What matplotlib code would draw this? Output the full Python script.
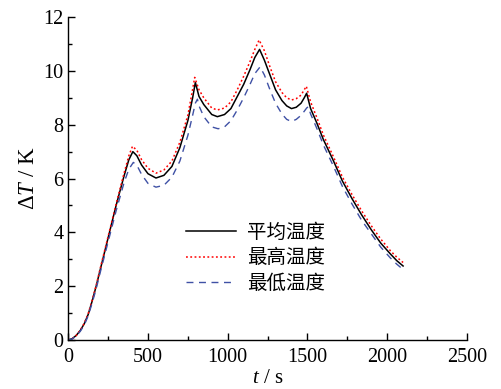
import matplotlib
matplotlib.use("Agg")
import matplotlib.pyplot as plt
from matplotlib.ticker import MultipleLocator

# data
t_avg = [0, 25, 50, 75, 100, 125, 150, 175, 200, 250, 300, 350, 380, 405, 430, 460,
         500, 550, 600, 650, 700, 750, 780, 797, 820, 850, 900, 935, 980, 1020, 1060,
         1100, 1140, 1170, 1200, 1230, 1265, 1300, 1340, 1370, 1400, 1430, 1460, 1480,
         1495, 1520, 1560, 1600, 1660, 1720, 1780, 1840, 1900, 1960, 2020, 2060, 2100]
dT_avg = [0, 0.05, 0.17, 0.35, 0.6, 0.95, 1.45, 2.0, 2.6, 3.8, 5.0, 6.1, 6.7, 7.0, 6.85, 6.5,
          6.18, 6.02, 6.12, 6.45, 7.15, 8.15, 9.0, 9.57, 9.05, 8.75, 8.38, 8.3, 8.38, 8.6, 9.05,
          9.5, 10.05, 10.5, 10.8, 10.4, 9.85, 9.3, 8.9, 8.7, 8.6, 8.65, 8.8, 9.0,
          9.17, 8.6, 8.05, 7.45, 6.7, 5.9, 5.25, 4.65, 4.1, 3.6, 3.2, 2.95, 2.75]

t_max = [0, 25, 50, 75, 100, 125, 150, 175, 200, 250, 300, 350, 380, 403, 430, 460,
         500, 550, 600, 650, 700, 750, 778, 793, 820, 850, 900, 935, 980, 1020, 1060,
         1100, 1140, 1170, 1197, 1230, 1265, 1300, 1340, 1370, 1400, 1430, 1460, 1480,
         1493, 1520, 1560, 1600, 1660, 1720, 1780, 1840, 1900, 1960, 2020, 2060, 2100]
dT_max = [0, 0.05, 0.17, 0.36, 0.62, 0.98, 1.48, 2.03, 2.65, 3.85, 5.05, 6.2, 6.85, 7.2, 7.05, 6.7,
          6.38, 6.2, 6.32, 6.65, 7.35, 8.35, 9.25, 9.76, 9.3, 9.0, 8.62, 8.55, 8.62, 8.85, 9.3,
          9.8, 10.35, 10.8, 11.15, 10.75, 10.15, 9.6, 9.2, 9.0, 8.92, 8.97, 9.1, 9.3,
          9.43, 8.85, 8.25, 7.62, 6.85, 6.05, 5.4, 4.8, 4.25, 3.75, 3.32, 3.08, 2.88]

t_min = [0, 25, 50, 75, 100, 125, 150, 175, 200, 250, 300, 350, 380, 408, 430, 460,
         500, 550, 600, 650, 700, 750, 780, 797, 810, 820, 850, 900, 940, 980, 1020, 1060,
         1100, 1140, 1170, 1203, 1230, 1265, 1300, 1340, 1370, 1400, 1430, 1460, 1480,
         1495, 1505, 1520, 1560, 1600, 1660, 1720, 1780, 1840, 1900, 1960, 2020, 2060, 2100]
dT_min = [0, 0.04, 0.15, 0.32, 0.55, 0.9, 1.38, 1.9, 2.5, 3.65, 4.8, 5.85, 6.35, 6.6, 6.5, 6.15,
          5.82, 5.68, 5.75, 6.05, 6.65, 7.6, 8.35, 8.8, 8.95, 8.7, 8.3, 7.92, 7.85, 7.92, 8.15, 8.55,
          9.0, 9.5, 9.9, 10.15, 9.85, 9.3, 8.8, 8.4, 8.2, 8.12, 8.2, 8.35, 8.5,
          8.62, 8.67, 8.4, 7.85, 7.25, 6.5, 5.7, 5.05, 4.45, 3.95, 3.45, 3.05, 2.82, 2.62]

labels = ["平均温度", "最高温度", "最低温度"]

plt.rcParams["font.family"] = ["Liberation Serif", "Noto Sans CJK SC"]
plt.rcParams["mathtext.fontset"] = "custom"
plt.rcParams["mathtext.rm"] = "Liberation Serif"
plt.rcParams["mathtext.it"] = "Liberation Serif:italic"

fig = plt.figure(figsize=(5.02, 3.89), dpi=100)
ax = fig.add_axes([0.136, 0.126, 0.794, 0.830])

ax.plot(t_avg, dT_avg, color="black", lw=1.1, label=labels[0])
ax.plot(t_max, dT_max, color="#ff0000", lw=1.1, ls=(0, (1.2, 1.6)), label=labels[1])
ax.plot(t_min, dT_min, color="#3f51a5", lw=1.0, ls=(0, (5, 4)), label=labels[2])

ax.set_xlim(0, 2500)
ax.set_ylim(0, 12)
ax.xaxis.set_major_locator(MultipleLocator(500))
ax.xaxis.set_minor_locator(MultipleLocator(250))
ax.yaxis.set_major_locator(MultipleLocator(2))
ax.yaxis.set_minor_locator(MultipleLocator(1))
ax.tick_params(which="both", direction="in", labelsize=14.5, width=1.0)
ax.tick_params(which="major", length=5)
ax.tick_params(which="minor", length=3)
ax.tick_params(axis="x", pad=6)
for s in ["top", "right"]:
    ax.spines[s].set_visible(False)
for s in ["left", "bottom"]:
    ax.spines[s].set_linewidth(1.0)

ax.set_xlabel(r"$t$ / s", fontsize=15, labelpad=1)
ax.set_ylabel(r"$\Delta T$ / K", fontsize=16.5, labelpad=3)

leg = ax.legend(loc="upper left", bbox_to_anchor=(0.27, 0.395), frameon=False,
                prop={"family": "Noto Sans CJK SC", "size": 14},
                handlelength=2.6, handletextpad=0.55, labelspacing=0.22, borderpad=0)

fig.savefig("out.png", dpi=100)
